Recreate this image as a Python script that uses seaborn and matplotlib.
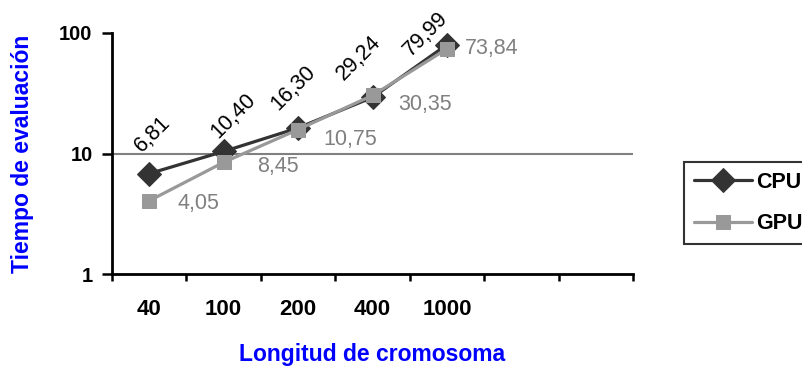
import matplotlib
matplotlib.use("Agg")
import matplotlib.pyplot as plt
import pandas as pd
import seaborn as sns

# Data
categories = ['40', '100', '200', '400', '1000']
n_slots = 7  # the category axis has two empty slots at the right
cpu_values = [6.81, 10.40, 16.30, 29.24, 79.99]
gpu_values = [4.05, 8.45, 15.8, 30.35, 73.84]   # marker at 200 sits near 16 in the picture
cpu_labels = ['6,81', '10,40', '16,30', '29,24', '79,99']
gpu_labels = ['4,05', '8,45', '10,75', '30,35', '73,84']

# label offsets in pixels (styling only)
cpu_offsets = [(3, 39), (10, 36), (-5, 40), (-14, 39), (-21, 11)]
gpu_offsets = [(28, -3), (33, -4), (25, -10), (26, -9), (18, 0)]

cpu_color = '#333333'
gpu_color = '#999999'

sns.set_style('white')
plt.rcParams['font.family'] = ['Liberation Sans', 'DejaVu Sans']
plt.rcParams['text.color'] = 'black'
plt.rcParams['xtick.color'] = 'black'
plt.rcParams['ytick.color'] = 'black'

df = pd.DataFrame({
    'pos': list(range(len(categories))) * 2,
    'value': cpu_values + gpu_values,
    'serie': ['CPU'] * len(categories) + ['GPU'] * len(categories),
})

fig = plt.figure(figsize=(8.03, 3.69), dpi=100)
ax = fig.add_axes([112 / 803, 1 - 274 / 369, (633 - 112) / 803, (274 - 33) / 369])

ax.axhline(10, color='#808080', lw=1.5, zorder=1)

sns.lineplot(data=df[df['serie'] == 'CPU'], x='pos', y='value', ax=ax, color=cpu_color,
             marker='D', markersize=12, markeredgecolor=cpu_color, lw=2.3, label='CPU', zorder=3)
sns.lineplot(data=df[df['serie'] == 'GPU'], x='pos', y='value', ax=ax, color=gpu_color,
             marker='s', markersize=10.5, markeredgecolor=gpu_color, lw=2.3, label='GPU', zorder=4)

for i, (v, t) in enumerate(zip(cpu_values, cpu_labels)):
    ax.annotate(t, (i, v), xytext=cpu_offsets[i], textcoords='offset pixels',
                ha='center', va='center', rotation=45, fontsize=15.5, color='black',
                annotation_clip=False)
for i, (v, t) in enumerate(zip(gpu_values, gpu_labels)):
    ax.annotate(t, (i, v), xytext=gpu_offsets[i], textcoords='offset pixels',
                ha='left', va='center', fontsize=15.5, color='#808080',
                annotation_clip=False)

ax.set_yscale('log')
ax.set_ylim(1, 100)
ax.set_yticks([1, 10, 100])
ax.set_yticklabels(['1', '10', '100'], fontsize=14.5, fontweight='bold')
ax.yaxis.set_minor_locator(matplotlib.ticker.NullLocator())

ax.set_xlim(-0.5, n_slots - 0.5)
ax.set_xticks([k - 0.5 for k in range(n_slots + 1)])
ax.set_xticklabels([])
ax.set_xticks(range(len(categories)), minor=True)
ax.set_xticklabels(categories, minor=True, fontsize=16, fontweight='bold')

ax.tick_params(axis='y', which='major', direction='out', length=7, width=1.8, pad=7, left=True)
ax.tick_params(axis='x', which='major', direction='out', length=5, width=1.8, bottom=True)
ax.tick_params(axis='x', which='minor', length=0, pad=18)

for side in ['top', 'right']:
    ax.spines[side].set_visible(False)
for side in ['left', 'bottom']:
    ax.spines[side].set_color('black')
    ax.spines[side].set_linewidth(2)

ax.set_xlabel('Longitud de cromosoma', fontsize=16.5, fontweight='bold', color='#0000FF')
ax.set_ylabel('Tiempo de evaluación', fontsize=16.5, fontweight='bold', color='#0000FF')
ax.xaxis.set_label_coords(0.5, -0.285)
ax.yaxis.set_label_coords(-0.15, 0.5)

leg = ax.legend(loc='upper left', bbox_to_anchor=(684 / 803, 1 - 162 / 369),
                bbox_transform=fig.transFigure, frameon=True, fancybox=False,
                prop={'size': 15.5, 'weight': 'bold'}, handlelength=2.7, handletextpad=0.2,
                borderpad=0.45, labelspacing=0.95, borderaxespad=0)
leg.get_frame().set_edgecolor('black')
leg.get_frame().set_linewidth(1.5)

fig.savefig('out.png', dpi=100)
